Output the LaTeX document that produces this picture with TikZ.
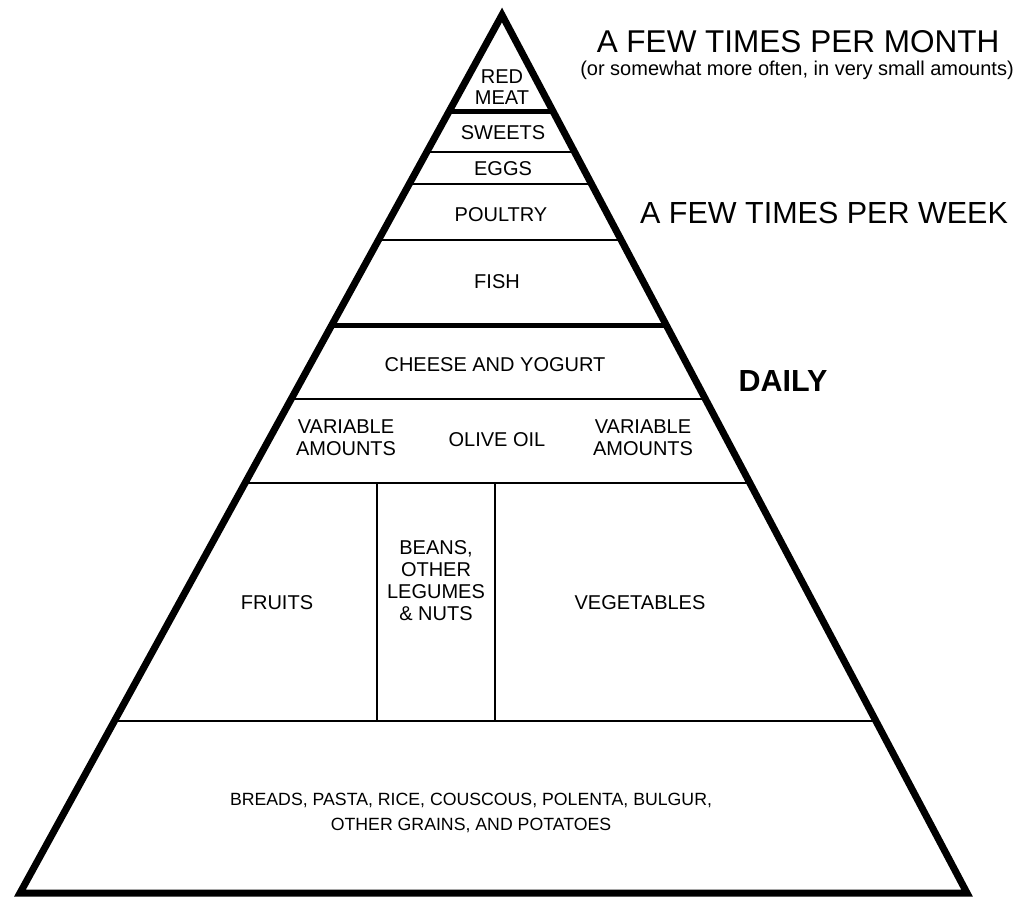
\documentclass[tikz,border=0pt]{standalone}
\usepackage{fontspec}
\setmainfont{Liberation Sans}
\usetikzlibrary{calc}

\begin{document}
\begin{tikzpicture}
  [x=1pt, y=-1pt,
   outline/.style={line width=7pt, line join=miter},
   heavy tier/.style={line width=5pt},
   tier/.style={line width=2.4pt},
   faint tier/.style={line width=1.3pt},
   food/.style={font=\fontsize{20}{22}\selectfont, align=center, inner sep=0pt},
   freq/.style={font=\fontsize{30.5}{34}\selectfont, inner sep=0pt}]
  \useasboundingbox (0,0) rectangle (1019,901);
  % corners of the pyramid
  \coordinate (top) at (502,15);
  \coordinate (bl) at (20,893);
  \coordinate (br) at (967,893);
  % ends of each dividing line
  \foreach \name/\yy in {meat/112, sweets/152, eggs/184, poultry/240,
                         fish/326, cheese/399, oil/483, fruits/721}
  {
    \coordinate (\name L) at ($(top)!{(\yy-15)/878}!(bl)$);
    \coordinate (\name R) at ($(top)!{(\yy-15)/878}!(br)$);
  }
  \coordinate (split1) at (377,0);
  \coordinate (split2) at (495,0);

  \draw[heavy tier] (meatL) -- (meatR);
  \draw[tier] (sweetsL) -- (sweetsR);
  \draw[faint tier] (eggsL) -- (eggsR);
  \draw[tier] (poultryL) -- (poultryR);
  \draw[heavy tier] (fishL) -- (fishR);
  \draw[tier] (cheeseL) -- (cheeseR);
  \draw[tier] (oilL) -- (oilR);
  \draw[tier] (fruitsL) -- (fruitsR);
  \draw[tier] (oilL -| split1) -- (fruitsL -| split1);
  \draw[tier] (oilL -| split2) -- (fruitsL -| split2);
  \draw[outline] (top) -- (br) -- (bl) -- cycle;

  % foods
  \node[food, font=\fontsize{20}{21}\selectfont] (redmeat) at (502,87) {RED\\MEAT};
  \node[food] (sweets) at (503,133) {SWEETS};
  \node[food] (eggs) at (503,169) {EGGS};
  \node[food] (poultry) at (501,215) {POULTRY};
  \node[food] (fish) at (497,282) {FISH};
  \node[food] (cheese) at (495,365) {CHEESE AND YOGURT};
  \node[food] (varleft) at (346,438) {VARIABLE\\AMOUNTS};
  \node[food] (oliveoil) at (497,440) {OLIVE OIL};
  \node[food] (varright) at (643,438) {VARIABLE\\AMOUNTS};
  \node[food] (fruits) at (277,603) {FRUITS};
  \node[food] (beans) at (436,581) {BEANS,\\OTHER\\LEGUMES\\\& NUTS};
  \node[food] (vegetables) at (640,603) {VEGETABLES};
  \node[food, font=\fontsize{17.7}{25}\selectfont] (grains) at (471,813)
    {BREADS, PASTA, RICE, COUSCOUS, POLENTA, BULGUR,\\OTHER GRAINS, AND POTATOES};

  % how often
  \node[freq, font=\fontsize{31.5}{34}\selectfont] (month) at (798,42) {A FEW TIMES PER MONTH};
  \node[food] (monthnote) at (797,70) {(or somewhat more often, in very small amounts)};
  \node[freq] (week) at (824,213) {A FEW TIMES PER WEEK};
  \node[freq, font=\bfseries\fontsize{30.5}{34}\selectfont] (daily) at (783,381) {DAILY};
\end{tikzpicture}
\end{document}
